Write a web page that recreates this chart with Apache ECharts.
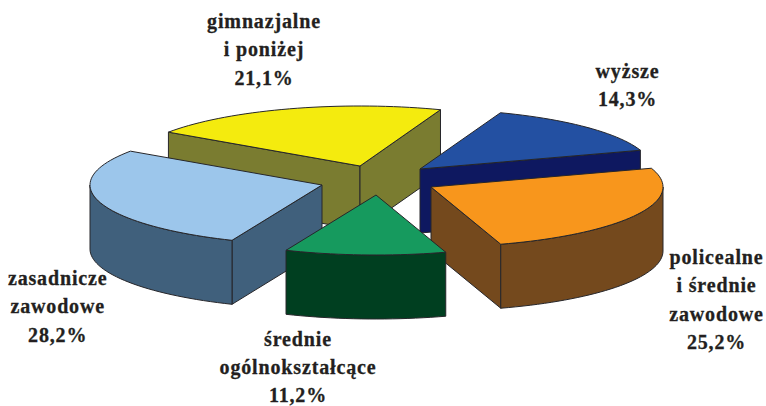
<!DOCTYPE html>
<html lang="pl">
<head>
    <meta charset="UTF-8">
    <title>Wykształcenie</title>
    <script src="https://cdn.jsdelivr.net/npm/echarts@6/dist/echarts.min.js"></script>
    <style>
        html, body { margin: 0; padding: 0; background: #fff; }
        #graph text { letter-spacing: 0.85px; }
    </style>
</head>
<body>
    <div id="graph" style="width: 766px; height: 406px;"></div>

    <script>
        // clockwise, starting from the edge between yellow and blue slice
        var categories = ['wyższe', 'policealne\ni średnie\nzawodowe', 'średnie\nogólnokształcące', 'zasadnicze\nzawodowe', 'gimnazjalne\ni poniżej'];
        var shares = [14.3, 25.2, 11.2, 28.2, 21.1];

        var topColors = ['#2350a2', '#f8961c', '#169a5e', '#9cc6eb', '#f4eb0e'];
        var sideColors = ['#0e1860', '#74491d', '#003f20', '#40607c', '#7a7c30'];
        // tip of each slice after it is pulled out of the pie
        var tips = [[420, 169], [431, 187], [376, 195], [322, 185], [360, 166]];
        // centre x and first baseline y of each label
        var labelPos = [[627.5, 77], [716.5, 263.5], [298, 345], [57.7, 284.5], [264, 27.5]];
        var drawOrder = [4, 0, 3, 1, 2];

        var RX = 232, RY = 60, DEPTH = 64, START = 20.3;
        var LINE = 28.2;
        var total = shares.reduce(function (a, b) { return a + b; }, 0);

        function rim(tip, deg, drop) {
            var r = deg * Math.PI / 180;
            return [tip[0] + RX * Math.sin(r), tip[1] - RY * Math.cos(r) + (drop || 0)];
        }

        function arc(tip, from, to, drop) {
            var pts = [];
            var n = Math.max(2, Math.ceil(Math.abs(to - from) / 2));
            for (var i = 0; i <= n; i++) {
                pts.push(rim(tip, from + (to - from) * i / n, drop));
            }
            return pts;
        }

        function face(points, color, z) {
            return {
                type: 'polygon',
                z2: z,
                shape: { points: points },
                style: { fill: color, stroke: '#26262a', lineWidth: 1, lineJoin: 'round' }
            };
        }

        function renderSlice(params, api) {
            var i = params.dataIndex;
            var before = 0;
            for (var k = 0; k < i; k++) before += shares[k];
            var a0 = START + before / total * 360;
            var a1 = a0 + api.value(0) / total * 360;
            var tip = tips[i];
            var z = drawOrder.indexOf(i) * 10;
            var low = [tip[0], tip[1] + DEPTH];
            var kids = [];

            if (Math.sin(a0 * Math.PI / 180) < 0) {
                kids.push(face([tip, rim(tip, a0), rim(tip, a0, DEPTH), low], sideColors[i], z));
            }
            if (Math.sin(a1 * Math.PI / 180) > 0) {
                kids.push(face([tip, rim(tip, a1), rim(tip, a1, DEPTH), low], sideColors[i], z + 1));
            }
            // outer wall only where the rim faces the viewer
            var f0 = Math.max(a0, 90), f1 = Math.min(a1, 270);
            if (f1 > f0) {
                kids.push(face(arc(tip, f0, f1, 0).concat(arc(tip, f1, f0, DEPTH)), sideColors[i], z + 2));
            }
            kids.push(face([tip].concat(arc(tip, a0, a1, 0)), topColors[i], z + 3));
            return { type: 'group', children: kids };
        }

        function renderLabel(params, api) {
            var i = params.dataIndex;
            var pct = api.value(0).toFixed(1).replace('.', ',') + '%';
            return {
                type: 'text',
                z2: 100,
                x: labelPos[i][0],
                y: labelPos[i][1] - 20.5,
                style: {
                    text: categories[i] + '\n' + pct,
                    fill: '#231f20',
                    stroke: '#231f20',
                    lineWidth: 0.3,
                    font: 'bold 20px "Liberation Serif", serif',
                    lineHeight: LINE,
                    align: 'center',
                    verticalAlign: 'top'
                }
            };
        }

        // svg renderer so the css letter-spacing reaches the labels
        var myChart = echarts.init(document.getElementById('graph'), null, { renderer: 'svg' });
        var option = {
            animation: false,
            backgroundColor: '#fff',
            series: [
                { type: 'custom', coordinateSystem: 'none', data: shares, renderItem: renderSlice, silent: true },
                { type: 'custom', coordinateSystem: 'none', data: shares, renderItem: renderLabel, silent: true }
            ]
        };
        myChart.setOption(option);
    </script>
</body>
</html>
